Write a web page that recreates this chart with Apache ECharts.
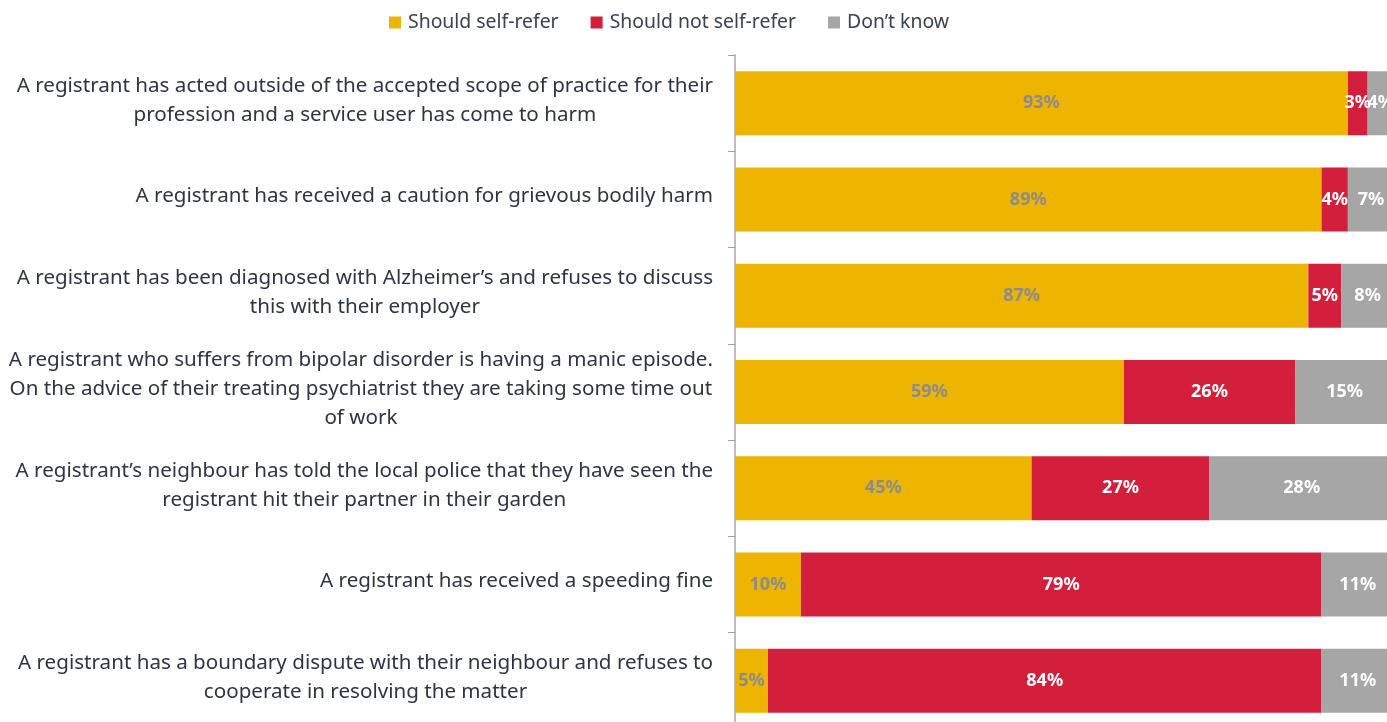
<!DOCTYPE html>
<html>
<head>
<meta charset="utf-8">
<style>
  html, body { margin: 0; padding: 0; background: #fff; }
  #chart { width: 1387px; height: 722px; }
</style>
<script src="https://cdn.jsdelivr.net/npm/echarts@6/dist/echarts.min.js"></script>
</head>
<body>
<div id="chart"></div>
<script>
var categories = [
  'A registrant has acted outside of the accepted scope of practice for their\nprofession and a service user has come to harm',
  'A registrant has received a caution for grievous bodily harm',
  'A registrant has been diagnosed with Alzheimer\u2019s and refuses to discuss\nthis with their employer',
  'A registrant who suffers from bipolar disorder is having a manic episode.\nOn the advice of their treating psychiatrist they are taking some time out\nof work',
  'A registrant\u2019s neighbour has told the local police that they have seen the\nregistrant hit their partner in their garden',
  'A registrant has received a speeding fine',
  'A registrant has a boundary dispute with their neighbour and refuses to\ncooperate in resolving the matter'
];
var shouldRefer = [93, 89, 87, 59, 45, 10, 5];
var shouldNotRefer = [3, 4, 5, 26, 27, 79, 84];
var dontKnow = [4, 7, 8, 15, 28, 11, 11];
var seriesNames = ['Should self-refer', 'Should not self-refer', 'Don\u2019t know'];

var FONT = '"Noto Sans", sans-serif';

var chart = echarts.init(document.getElementById('chart'));

function barSeries(name, data, color, labelColor) {
  return {
    name: name,
    type: 'bar',
    stack: 'total',
    barWidth: 64,
    data: data,
    itemStyle: { color: color },
    label: {
      show: true,
      position: 'inside',
      formatter: '{c}%',
      color: labelColor,
      fontFamily: FONT,
      fontWeight: 'bold',
      fontSize: 18
    }
  };
}

var option = {
  animation: false,
  legend: {
    top: 8,
    left: 384,
    itemWidth: 12,
    itemHeight: 12,
    itemGap: 32,
    icon: 'rect',
    textStyle: { color: '#3a4250', fontSize: 19.4, fontFamily: FONT, padding: [0, 0, 0, 2] }
  },
  // the plot runs a few pixels past the right and bottom edges of the picture
  grid: { left: 735, right: -7, top: 55, bottom: -7, containLabel: false, outerBoundsMode: 'none' },
  xAxis: {
    type: 'value',
    min: 0,
    max: 100,
    show: false
  },
  yAxis: {
    type: 'category',
    inverse: true,
    data: categories,
    axisLine: { show: true, lineStyle: { color: '#bdbdbd', width: 2 } },
    axisTick: { show: true, length: 7, lineStyle: { color: '#a0a0a0' } },
    axisLabel: {
      margin: 22,
      padding: [0, 0, 6, 0],
      formatter: function (v) {
        return v.split('\n').map(function (l) { return '{c|' + l + '}'; }).join('\n');
      },
      rich: {
        c: {
          align: 'center',
          color: '#2e3440',
          fontSize: 20.6,
          lineHeight: 29,
          fontFamily: FONT
        }
      }
    }
  },
  series: [
    barSeries(seriesNames[0], shouldRefer, '#EDB400', '#8c8c8c'),
    barSeries(seriesNames[1], shouldNotRefer, '#D31F3C', '#ffffff'),
    barSeries(seriesNames[2], dontKnow, '#A6A6A6', '#ffffff')
  ]
};

chart.setOption(option);
</script>
</body>
</html>
